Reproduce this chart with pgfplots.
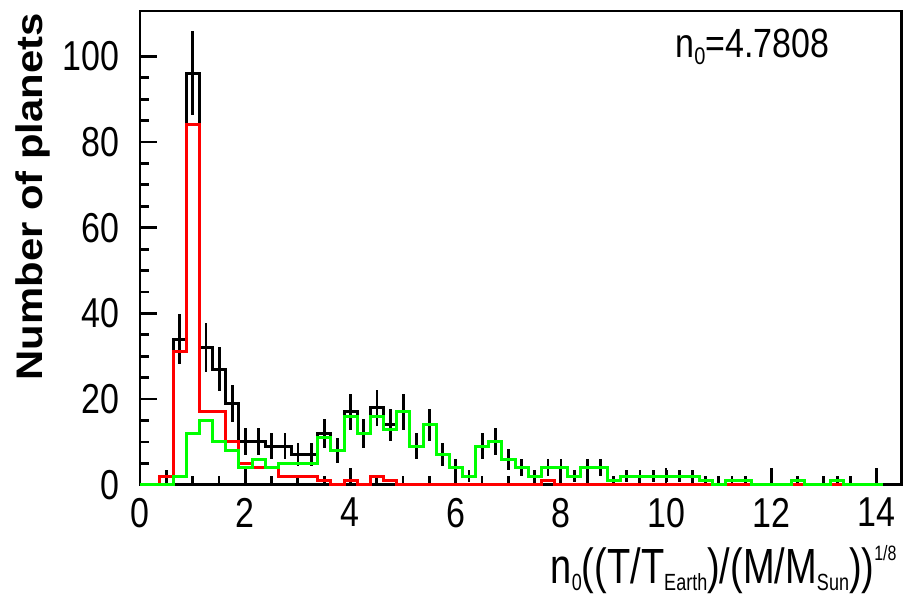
\documentclass[border=0pt]{standalone}
\usepackage{fontspec}
\setmainfont{Liberation Sans}
\usepackage{pgfplots}
\usepackage{pgfplotstable}
\pgfplotsset{compat=1.18}

% bins of width 0.25 starting at 0.13 (left edges), counts per bin
\pgfplotstableread{
x     blk red grn
0     0   0   0
0.13  0   0   0
0.38  2   2   0
0.63  34  31  2
0.88  96  84  12
1.13  32  17  15
1.38  27  17  10
1.63  19  10  8
1.88  10  5   4
2.13  10  4   6
2.38  9   4   4
2.63  9   2   5
2.88  7   2   5
3.13  7   2   5
3.38  12  1   11
3.63  8   0   8
3.88  17  1   16
4.13  12  0   12
4.38  18  2   16
4.63  14  1   13
4.88  17  0   17
5.13  9   0   9
5.38  14  0   14
5.63  7   0   7
5.88  4   0   4
6.13  2   0   2
6.38  9   0   9
6.63  10  0   10
6.88  6   0   6
7.13  4   0   4
7.38  2   0   2
7.63  4   1   4
7.88  4   0   4
8.13  2   0   2
8.38  4   0   4
8.63  4   0   4
8.88  1   0   1
9.13  2   0   2
9.38  2   0   2
9.63  2   0   2
9.88  2   0   2
10.13 2   0   2
10.38 2   0   2
10.63 1   0   1
10.88 0   0   0
11.13 1   0   1
11.38 1   0   1
11.63 0   0   0
11.88 0   0   0
12.13 0   0   0
12.38 1   0   1
12.63 0   0   0
12.88 0   0   0
13.13 1   0   1
13.38 0   0   0
13.63 0   0   0
13.88 0   0   0
14.13 0   0   0
}\histdata

% black histogram: bin centre, count, sqrt(count)
\pgfplotstableread{
xc     n   err
0.505  2   1.41
0.755  34  5.83
1.005  96  9.80
1.255  32  5.66
1.505  27  5.20
1.755  19  4.36
2.005  10  3.16
2.255  10  3.16
2.505  9   3.00
2.755  9   3.00
3.005  7   2.65
3.255  7   2.65
3.505  12  3.46
3.755  8   2.83
4.005  17  4.12
4.255  12  3.46
4.505  18  4.24
4.755  14  3.74
5.005  17  4.12
5.255  9   3.00
5.505  14  3.74
5.755  7   2.65
6.005  4   2.00
6.255  2   1.41
6.505  9   3.00
6.755  10  3.16
7.005  6   2.45
7.255  4   2.00
7.505  2   1.41
7.755  4   2.00
8.005  4   2.00
8.255  2   1.41
8.505  4   2.00
8.755  4   2.00
9.005  1   1.00
9.255  2   1.41
9.505  2   1.41
9.755  2   1.41
10.005 2   1.41
10.255 2   1.41
10.505 2   1.41
10.755 1   1.00
11.255 1   1.00
11.505 1   1.00
12.505 1   1.00
13.255 1   1.00
}\errdata

\newcommand{\tl}[1]{\scalebox{1}[1.23]{#1}}
\newcommand{\lsub}[1]{\raisebox{-2.8pt}{\fontsize{9}{9}\selectfont #1}}
\newcommand{\lsup}[1]{\raisebox{8.5pt}{\fontsize{8}{8}\selectfont #1}}

\begin{document}
\begin{tikzpicture}
\useasboundingbox (-70pt,-55.1pt) rectangle (383pt,242.4pt);
\begin{axis}[
    at={(0pt,0pt)}, anchor=south west,
    scale only axis,
    width=380.85pt, height=236.9pt,
    xmin=0, xmax=14.48,
    ymin=0, ymax=110.57,
    clip=false,
    axis line style={line width=1.4pt},
    tick style={line width=1.4pt, black},
    major tick length=8.5pt,
    minor tick length=4.5pt,
    tick align=inside,
    tick pos=left,
    xtick={0,2,4,6,8,10,12,14},
    xticklabels={\tl{0},\tl{2},\tl{4},\tl{6},\tl{8},\tl{10},\tl{12},\tl{14}},
    minor x tick num=3,
    ytick={0,20,40,60,80,100},
    yticklabels={\tl{0},\tl{20},\tl{40},\tl{60},\tl{80},\tl{100}},
    minor y tick num=3,
    xticklabel style={inner sep=0pt, yshift=-6.35pt, font=\fontsize{17}{17}\selectfont},
    yticklabel style={inner sep=0pt, xshift=-10pt, font=\fontsize{17}{17}\selectfont},
    xlabel={\scalebox{1}[1.3]{n\lsub{0}((T/T\lsub{Earth})/(M/M\lsub{Sun}))\lsup{1/8}}},
    xlabel style={at={(axis description cs:0.9938,-0.2073)}, anchor=base east,
        inner sep=0pt, font=\fontsize{19}{19}\selectfont},
    ylabel={\scalebox{1.13}[1]{Number of planets}},
    ylabel style={at={(axis description cs:-0.1283,0.9958)}, anchor=base east,
        inner sep=0pt, font=\fontsize{18.5}{18.5}\selectfont\bfseries},
]
\addplot[const plot, black, line width=1.5pt] table[x=x, y=blk] {\histdata};
\addplot[draw=none, mark=none,
    error bars/.cd, y dir=both, y explicit, error mark=none,
    error bar style={draw=black, line width=1.4pt}]
    table[x=xc, y=n, y error=err] {\errdata};
\addplot[const plot, red, line width=1.5pt] table[x=x, y=red] {\histdata};
\addplot[const plot, green, line width=1.5pt] table[x=x, y=grn] {\histdata};

\node[anchor=base west, inner sep=0pt, font=\fontsize{17}{17}\selectfont]
    at (axis description cs:0.7024,0.9029)
    {\scalebox{1}[1.2]{n\raisebox{-3pt}{\fontsize{10}{10}\selectfont 0}=4.7808}};
\end{axis}
\end{tikzpicture}
\end{document}
